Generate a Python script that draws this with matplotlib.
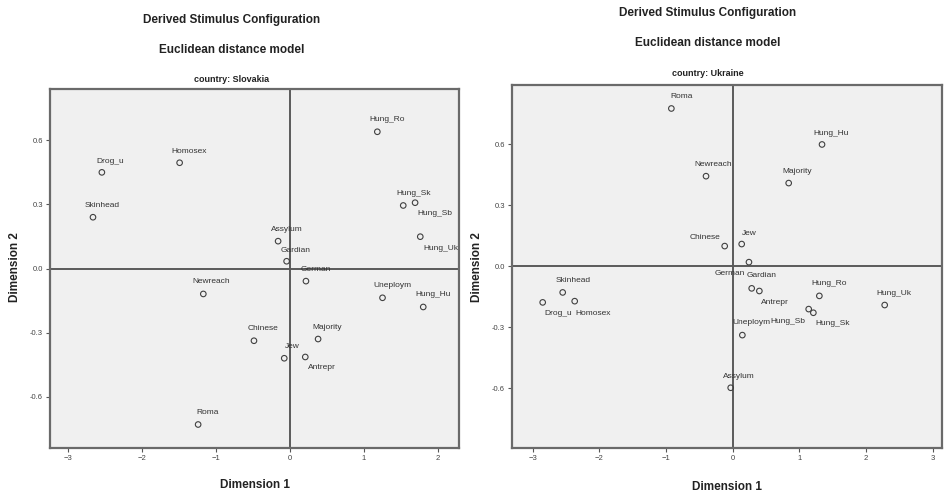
import matplotlib.pyplot as plt

# Stimulus labels and coordinates

Sk_Labels = ["Drog_u", "Homosex", "Skinhead", "Hung_Ro", "Hung_Sk", "Hung_Sb", "Hung_Uk",
             "Assylum", "Gardian", "German", "Newreach", "Roma", "Uneploym", "Hung_Hu",
             "Chinese", "Majority", "Jew", "Antrepr"]
Sk_Dim1 = [-2.54, -1.49, -2.66, 1.18, 1.53, 1.69, 1.76,
           -0.16, -0.045, 0.216, -1.17, -1.24, 1.25, 1.80,
           -0.486, 0.38, -0.077, 0.207]
Sk_Dim2 = [0.45, 0.495, 0.24, 0.64, 0.295, 0.308, 0.149,
           0.128, 0.034, -0.059, -0.119, -0.73, -0.137, -0.18,
           -0.338, -0.33, -0.42, -0.414]

Uk_Labels = ["Roma", "Newreach", "Hung_Hu", "Majority", "Chinese", "Jew", "German",
             "Gardian", "Antrepr", "Hung_Ro", "Hung_Uk", "Hung_Sb", "Hung_Sk",
             "Uneploym", "Assylum", "Skinhead", "Drog_u", "Homosex"]
Uk_Dim1 = [-0.92, -0.40, 1.34, 0.84, -0.12, 0.135, 0.244,
           0.285, 0.40, 1.30, 2.28, 1.14, 1.21,
           0.145, -0.03, -2.55, -2.85, -2.37]
Uk_Dim2 = [0.777, 0.444, 0.60, 0.41, 0.10, 0.11, 0.021,
           -0.108, -0.121, -0.145, -0.19, -0.21, -0.228,
           -0.338, -0.597, -0.128, -0.177, -0.171]

X_Ticks = [-3, -2, -1, 0, 1, 2, 3]
Y_Ticks = [-0.6, -0.3, 0.0, 0.3, 0.6]

# label placement (pixels from the point: dx, dy, alignment)
Sk_Offsets = [(-5, 11, 'left'), (-8, 11, 'left'), (-8, 12, 'left'), (-8, 12, 'left'),
              (-7, 12, 'left'), (2, -11, 'left'), (3, -12, 'left'),
              (-7, 12, 'left'), (-6, 11, 'left'), (-5, 12, 'left'), (-11, 12, 'left'),
              (-2, 12, 'left'), (-9, 12, 'left'), (-8, 12, 'left'),
              (-6, 12, 'left'), (-6, 12, 'left'), (1, 12, 'left'), (3, -11, 'left')]
Uk_Offsets = [(-1, 12, 'left'), (-12, 12, 'left'), (-9, 11, 'left'), (-6, 12, 'left'),
              (-4, 9, 'right'), (0, 11, 'left'), (-4, -11, 'right'),
              (-5, 13, 'left'), (2, -11, 'left'), (-8, 12, 'left'), (-8, 12, 'left'),
              (-3, -12, 'right'), (2, -11, 'left'),
              (-10, 13, 'left'), (-8, 11, 'left'), (-7, 12, 'left'), (2, -11, 'left'),
              (1, -12, 'left')]

Font = ['Liberation Sans Narrow', 'Liberation Sans', 'DejaVu Sans']
plt.rcParams['font.family'] = Font

Fig = plt.figure(figsize=(9.44, 4.94), dpi=100)


def draw_panel(rect, labels, dim1, dim2, offsets, xlim, ylim, country, tx, ty):
    ax = Fig.add_axes(rect)
    ax.set_facecolor('#f0f0f0')
    ax.axhline(0, color='#5a5a5a', lw=1.4, zorder=1)
    ax.axvline(0, color='#5a5a5a', lw=1.4, zorder=1)
    ax.scatter(dim1, dim2, s=16, facecolors='none', edgecolors='#404040', linewidths=0.8, zorder=3)
    for name, x, y, (dx, dy, ha) in zip(labels, dim1, dim2, offsets):
        ax.annotate(name, (x, y), xytext=(dx * 0.72, dy * 0.72), textcoords='offset points',
                    ha=ha, va='center', fontsize=6, color='#333333', zorder=4)
    ax.set_xlim(xlim)
    ax.set_ylim(ylim)
    ax.set_xticks([t for t in X_Ticks if xlim[0] < t < xlim[1]])
    ax.set_yticks(Y_Ticks)
    ax.set_yticklabels(["%.1f" % t for t in Y_Ticks])
    ax.tick_params(direction='out', length=3, width=0.8, color='#555555',
                   labelsize=5.5, labelcolor='#444444', pad=2)
    for s in ax.spines.values():
        s.set_color('#6a6a6a')
        s.set_linewidth(1.6)
    Fig.text(tx, ty[0], "Derived Stimulus Configuration", ha='center', va='center',
             fontsize=8.5, fontweight='bold', color='#222222')
    Fig.text(tx, ty[1], "Euclidean distance model", ha='center', va='center',
             fontsize=8.5, fontweight='bold', color='#222222')
    Fig.text(tx, ty[2], "country: " + country, ha='center', va='center',
             fontsize=6.5, fontweight='bold', color='#222222')
    return ax


Left = draw_panel([0.053, 0.0931, 0.433, 0.7267], Sk_Labels, Sk_Dim1, Sk_Dim2, Sk_Offsets,
                  (-3.24, 2.28), (-0.84, 0.84), "Slovakia", 0.2454, (0.9595, 0.8988, 0.840))
Right = draw_panel([0.5424, 0.0937, 0.4555, 0.734], Uk_Labels, Uk_Dim1, Uk_Dim2, Uk_Offsets,
                   (-3.31, 3.14), (-0.892, 0.892), "Ukraine", 0.75, (0.9737, 0.913, 0.852))

Fig.text(0.27, 0.018, "Dimension 1", ha='center', va='center', fontsize=8.5,
         fontweight='bold', color='#222222')
Fig.text(0.77, 0.015, "Dimension 1", ha='center', va='center', fontsize=8.5,
         fontweight='bold', color='#222222')
Fig.text(0.016, 0.46, "Dimension 2", ha='center', va='center', rotation=90, fontsize=8.5,
         fontweight='bold', color='#222222')
Fig.text(0.505, 0.46, "Dimension 2", ha='center', va='center', rotation=90, fontsize=8.5,
         fontweight='bold', color='#222222')

Fig.savefig('out.png', dpi=100)
